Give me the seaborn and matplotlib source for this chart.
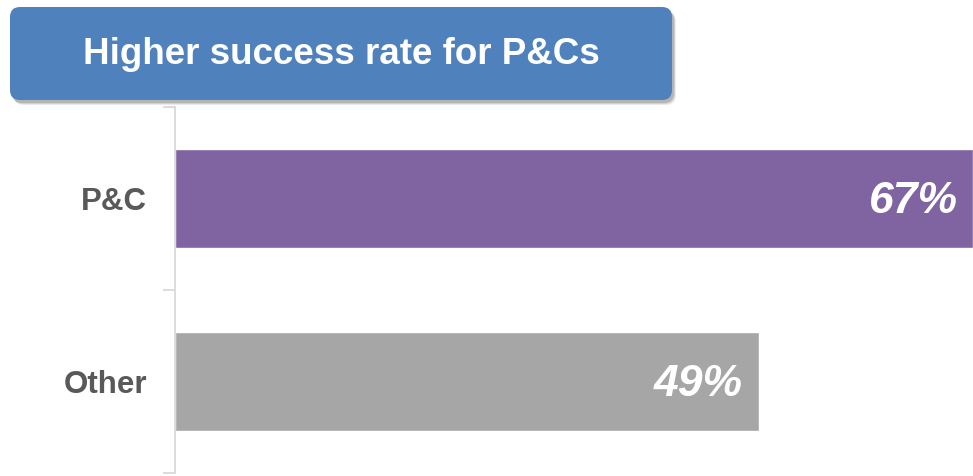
import matplotlib
matplotlib.use("Agg")
import matplotlib.pyplot as plt
import seaborn as sns
import pandas as pd
from matplotlib.patches import FancyBboxPatch
from matplotlib import patheffects

# data
categories = ["P&C", "Other"]
success_rate = [67, 49]
value_labels = ["67%", "49%"]
bar_colors = ["#8064A2", "#A6A6A6"]
title_text = "Higher success rate for P&Cs"

sns.set_style("white")
plt.rcParams["font.family"] = ["Liberation Sans", "DejaVu Sans"]

df = pd.DataFrame({"group": categories, "rate": success_rate})

fig = plt.figure(figsize=(9.73, 4.76), dpi=100)
ax = fig.add_axes([175 / 973, 3 / 476, 1 - 175 / 973, (473 - 107) / 476])

sns.barplot(data=df, x="rate", y="group", hue="group", palette=bar_colors,
            orient="h", width=0.545, legend=False, ax=ax, saturation=1)

ax.set_xlim(0, 67)
ax.set_ylim(1.5, -0.5)
ax.set_xlabel("")
ax.set_ylabel("")
ax.set_xticks([])

for s in ["top", "right", "bottom"]:
    ax.spines[s].set_visible(False)
ax.spines["left"].set_color("#D9D9D9")
ax.spines["left"].set_linewidth(1.3)

# category labels, boundaries as minor ticks
ax.set_yticks([0, 1])
ax.set_yticklabels(categories, fontsize=22.5, fontweight="bold", color="#595959")
ax.tick_params(axis="y", which="major", length=0, pad=20)
ax.set_yticks([-0.5, 0.5, 1.5], minor=True)
ax.tick_params(axis="y", which="minor", left=True, length=9, width=1.3, color="#D9D9D9")

# value labels inside bars
for i, (v, lab) in enumerate(zip(success_rate, value_labels)):
    ax.annotate(lab, xy=(v, i), xytext=(-11, -2), textcoords="offset points",
                ha="right", va="center", fontsize=32, fontweight="bold",
                fontstyle="italic", color="white")

# title box with soft shadow
for k, a in [(5, 0.10), (4, 0.15), (3, 0.2)]:
    sh = FancyBboxPatch((0.10 + k / 100 - 0.01, 3.76 - k / 100), 6.62, 0.93,
                        boxstyle="round,pad=0,rounding_size=0.1",
                        transform=fig.dpi_scale_trans, facecolor="#404040",
                        edgecolor="none", alpha=a, zorder=4)
    fig.patches.append(sh)
box = FancyBboxPatch((0.10, 3.76), 6.62, 0.93,
                     boxstyle="round,pad=0,rounding_size=0.1",
                     transform=fig.dpi_scale_trans, facecolor="#4F81BD",
                     edgecolor="none", zorder=5)
fig.patches.append(box)
fig.text(3.41 / 9.73, (476 - 55) / 476, title_text, ha="center", va="center",
         fontsize=26.5, fontweight="bold", color="white", zorder=6)

fig.savefig("out.png", dpi=100)
